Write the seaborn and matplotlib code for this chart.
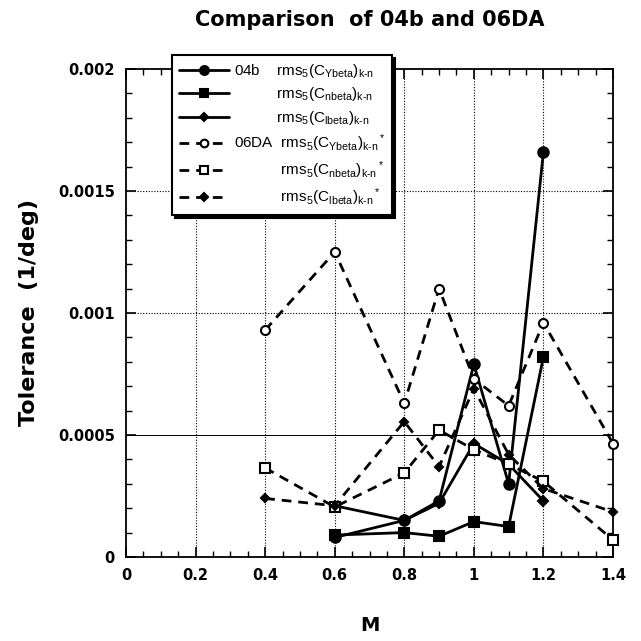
import matplotlib
matplotlib.use("Agg")
import matplotlib.pyplot as plt
from matplotlib.lines import Line2D
from matplotlib.ticker import MultipleLocator
import seaborn as sns
import numpy as np

sns.set_theme(style="ticks")
plt.rcParams['font.family'] = ['Liberation Sans', 'DejaVu Sans']
plt.rcParams['mathtext.fontset'] = 'custom'
plt.rcParams['mathtext.rm'] = 'Liberation Sans'
plt.rcParams['mathtext.it'] = 'Liberation Sans'
plt.rcParams['mathtext.bf'] = 'Liberation Sans:bold'
for k in ['text.color', 'axes.labelcolor', 'xtick.color', 'ytick.color', 'axes.edgecolor']:
    plt.rcParams[k] = 'black'

# Data
m_04b = [0.6, 0.8, 0.9, 1.0, 1.1, 1.2]
ybeta_04b = [0.00008, 0.00015, 0.00023, 0.00079, 0.00030, 0.00166]
nbeta_04b = [0.00009, 0.00010, 0.000085, 0.000145, 0.000125, 0.00082]
lbeta_04b = [0.00021, 0.00015, 0.00022, 0.000465, 0.00038, 0.00023]

m_06da = [0.4, 0.6, 0.8, 0.9, 1.0, 1.1, 1.2, 1.4]
ybeta_06da = [0.00093, 0.00125, 0.00063, 0.0011, 0.00073, 0.00062, 0.00096, 0.000465]
nbeta_06da = [0.000365, 0.000205, 0.000345, 0.00052, 0.00044, 0.00038, 0.00031, 0.00007]
lbeta_06da = [0.00024, 0.00021, 0.000555, 0.00037, 0.00069, 0.00042, 0.00028, 0.000185]

labels = [
    r"04b    rms$_5$(C$_{Ybeta}$)$_{k\text{-}n}$   ",
    r"          rms$_5$(C$_{nbeta}$)$_{k\text{-}n}$",
    r"          rms$_5$(C$_{lbeta}$)$_{k\text{-}n}$",
    r"06DA  rms$_5$(C$_{Ybeta}$)$_{k\text{-}n}$$^*$",
    r"           rms$_5$(C$_{nbeta}$)$_{k\text{-}n}$$^*$",
    r"           rms$_5$(C$_{lbeta}$)$_{k\text{-}n}$$^*$",
]

fig = plt.figure(figsize=(6.41, 6.41), dpi=100)
ax = fig.add_axes([126/641, 1-557/641, (613-126)/641, (557-69)/641])

dash = (0, (3.5, 2.5))
series = [
    (m_04b, ybeta_04b, 'o', '-', 'black', 7.5),
    (m_04b, nbeta_04b, 's', '-', 'black', 7),
    (m_04b, lbeta_04b, 'D', '-', 'black', 5),
    (m_06da, ybeta_06da, 'o', dash, 'white', 6.5),
    (m_06da, nbeta_06da, 's', dash, 'white', 6.5),
    (m_06da, lbeta_06da, 'D', dash, 'black', 4.5),
]
handles = []
for (xs, ys, mk, ls, mfc, ms), lab in zip(series, labels):
    sns.lineplot(x=xs, y=ys, ax=ax, color='black', linewidth=2, linestyle=ls,
                 marker=mk, markersize=ms, markerfacecolor=mfc,
                 markeredgecolor='black', markeredgewidth=1.5, sort=False,
                 clip_on=False, zorder=3)
    handles.append(Line2D([], [], color='black', linewidth=2, linestyle=ls,
                          marker=mk, markersize=ms * 0.85, markerfacecolor=mfc,
                          markeredgecolor='black', markeredgewidth=1.5))

ax.set_xlim(0, 1.4)
ax.set_ylim(0, 0.002)
ax.xaxis.set_minor_locator(MultipleLocator(0.05))
ax.yaxis.set_minor_locator(MultipleLocator(0.0001))
ax.set_xticks(np.arange(0, 1.41, 0.2))
ax.set_xticklabels(['0', '0.2', '0.4', '0.6', '0.8', '1', '1.2', '1.4'])
ax.set_yticks([0, 0.0005, 0.001, 0.0015, 0.002])
ax.set_yticklabels(['0', '0.0005', '0.001', '0.0015', '0.002'])

for xv in [0.2, 0.4, 0.6, 0.8, 1.0, 1.2]:
    ax.axvline(xv, color='black', linestyle=(0, (1, 1.5)), linewidth=0.8, zorder=0)
ax.axhline(0.0005, color='black', linestyle='-', linewidth=0.7, zorder=0)
for yv in [0.001, 0.0015]:
    ax.axhline(yv, color='black', linestyle=(0, (1, 1.5)), linewidth=0.8, zorder=0)

ax.tick_params(which='both', direction='in', top=True, right=True, color='black')
ax.tick_params(which='major', length=7, width=1.2, pad=8)
ax.tick_params(which='minor', length=4, width=1)
for lab in ax.get_xticklabels() + ax.get_yticklabels():
    lab.set_fontweight('bold')
    lab.set_fontfamily('DejaVu Sans')
    lab.set_fontsize(10.5)
for sp in ax.spines.values():
    sp.set_color('black')
    sp.set_linewidth(1.3)

ax.set_xlabel('M', fontsize=14, fontweight='bold', family='DejaVu Sans', labelpad=24)
ax.set_ylabel('Tolerance  (1/deg)', fontsize=16, fontweight='bold', family='DejaVu Sans',
              labelpad=14)
fig.text(370/641, 1-20/641, 'Comparison  of 04b and 06DA', ha='center', va='center',
         fontsize=15, fontweight='bold', family='DejaVu Sans')

leg = fig.legend(handles, labels, loc='upper left',
                 bbox_to_anchor=(172/641, 1-55/641), fontsize=11,
                 frameon=True, fancybox=False, shadow={'color': 'black', 'alpha': 1},
                 handlelength=3.3, handletextpad=0.3, labelspacing=0.36,
                 borderpad=0.45, borderaxespad=0, framealpha=1)
leg.get_frame().set_edgecolor('black')
leg.get_frame().set_linewidth(1.5)

fig.savefig('out.png', dpi=100)
